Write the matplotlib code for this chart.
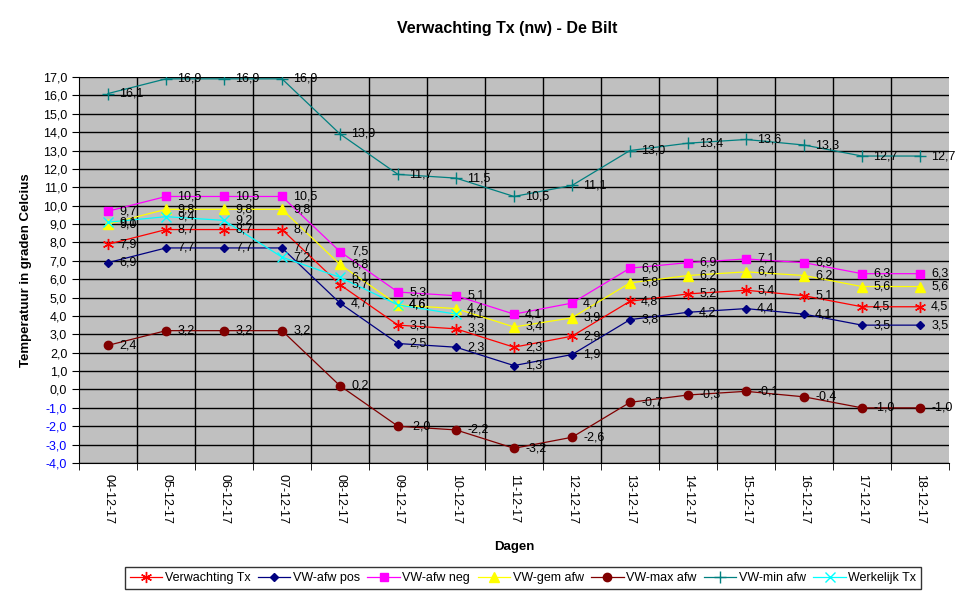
import matplotlib
matplotlib.use("Agg")
import matplotlib.pyplot as plt
import numpy as np

plt.rcParams['font.family'] = ['Liberation Sans', 'DejaVu Sans']

dates = ["04-12-17", "05-12-17", "06-12-17", "07-12-17", "08-12-17", "09-12-17", "10-12-17",
         "11-12-17", "12-12-17", "13-12-17", "14-12-17", "15-12-17", "16-12-17", "17-12-17", "18-12-17"]

verwachting = [7.9, 8.7, 8.7, 8.7, 5.7, 3.5, 3.3, 2.3, 2.9, 4.8, 5.2, 5.4, 5.1, 4.5, 4.5]
afw_pos = [6.9, 7.7, 7.7, 7.7, 4.7, 2.5, 2.3, 1.3, 1.9, 3.8, 4.2, 4.4, 4.1, 3.5, 3.5]
afw_neg = [9.7, 10.5, 10.5, 10.5, 7.5, 5.3, 5.1, 4.1, 4.7, 6.6, 6.9, 7.1, 6.9, 6.3, 6.3]
gem_afw = [9.0, 9.8, 9.8, 9.8, 6.8, 4.6, 4.4, 3.4, 3.9, 5.8, 6.2, 6.4, 6.2, 5.6, 5.6]
max_afw = [2.4, 3.2, 3.2, 3.2, 0.2, -2.0, -2.2, -3.2, -2.6, -0.7, -0.3, -0.1, -0.4, -1.0, -1.0]
min_afw = [16.1, 16.9, 16.9, 16.9, 13.9, 11.7, 11.5, 10.5, 11.1, 13.0, 13.4, 13.6, 13.3, 12.7, 12.7]
werkelijk = [9.1, 9.4, 9.2, 7.2, 6.1, 4.6, 4.1]

series = [
    ("Verwachting Tx", verwachting, "#FF0000", (6, 2, 0), 8, None),
    ("VW-afw pos", afw_pos, "#000080", "D", 4.5, "#000080"),
    ("VW-afw neg", afw_neg, "#FF00FF", "s", 6, "#FF00FF"),
    ("VW-gem afw", gem_afw, "#FFFF00", "^", 7, "#FFFF00"),
    ("VW-max afw", max_afw, "#800000", "o", 6, "#800000"),
    ("VW-min afw", min_afw, "#008080", "+", 8, None),
    ("Werkelijk Tx", werkelijk, "#00FFFF", "x", 7, None),
]

fig = plt.figure(figsize=(9.75, 5.98), dpi=100)
ax = fig.add_axes([79/975, 1-463/598, (949-79)/975, (463-77)/598])
ax.set_facecolor("#C0C0C0")

handles = []
for name, vals, col, mk, ms, fc in series:
    x = np.arange(len(vals))
    h, = ax.plot(x, vals, color=col, lw=0.9, marker=mk, markersize=ms,
                 markerfacecolor=fc if fc else col, markeredgecolor=col,
                 markeredgewidth=1.0, label=name, zorder=3)
    handles.append(h)
    for xi, v in zip(x, vals):
        ax.annotate(f"{v:.1f}".replace(".", ","), (xi, v), xytext=(8, 0),
                    textcoords="offset points", ha="left", va="center",
                    fontsize=9, color="black", zorder=4)

ax.set_xlim(-0.5, len(dates) - 0.5)
ax.set_ylim(-4, 17)
yt = np.arange(-4, 18, 1)
ax.set_yticks(yt)
ax.set_yticklabels([f"{v:.1f}".replace(".", ",") for v in yt], fontsize=9)
for lbl, v in zip(ax.get_yticklabels(), yt):
    if v < 0:
        lbl.set_color("#0000FF")
ax.yaxis.grid(True, color="black", lw=1.0, zorder=1)
ax.set_axisbelow(True)

ax.set_xticks(np.arange(len(dates)))
ax.set_xticklabels(dates, rotation=270, fontsize=9)
ax.tick_params(axis="x", which="major", length=0, pad=8)
ax.set_xticks(np.arange(-0.5, len(dates), 1), minor=True)
ax.tick_params(axis="x", which="minor", length=5, color="black")
ax.tick_params(axis="y", length=5, color="black")
for xb in np.arange(0.5, len(dates) - 0.5, 1):
    ax.axvline(xb, color="black", lw=1.0, zorder=1)

for side in ["top", "right"]:
    ax.spines[side].set_visible(False)
ax.spines["left"].set_color("black")
ax.spines["bottom"].set_color("black")

ax.set_ylabel("Temperatuur in graden Celcius", fontsize=9.5, fontweight="bold", labelpad=8)
ax.set_xlabel("Dagen", fontsize=9.5, fontweight="bold", labelpad=12)

fig.text(507/975, 1-28/598, "Verwachting Tx (nw) - De Bilt", ha="center", va="center",
         fontsize=11.5, fontweight="bold")

leg = fig.legend(handles=handles, loc="center", ncol=7, bbox_to_anchor=(523/975, 1-578/598),
                 frameon=True, fancybox=False, edgecolor="black", fontsize=9,
                 handlelength=2.6, handletextpad=0.2, columnspacing=0.6, borderpad=0.4,
                 borderaxespad=0)
leg.get_frame().set_linewidth(1.0)

fig.savefig("out.png", dpi=100)
